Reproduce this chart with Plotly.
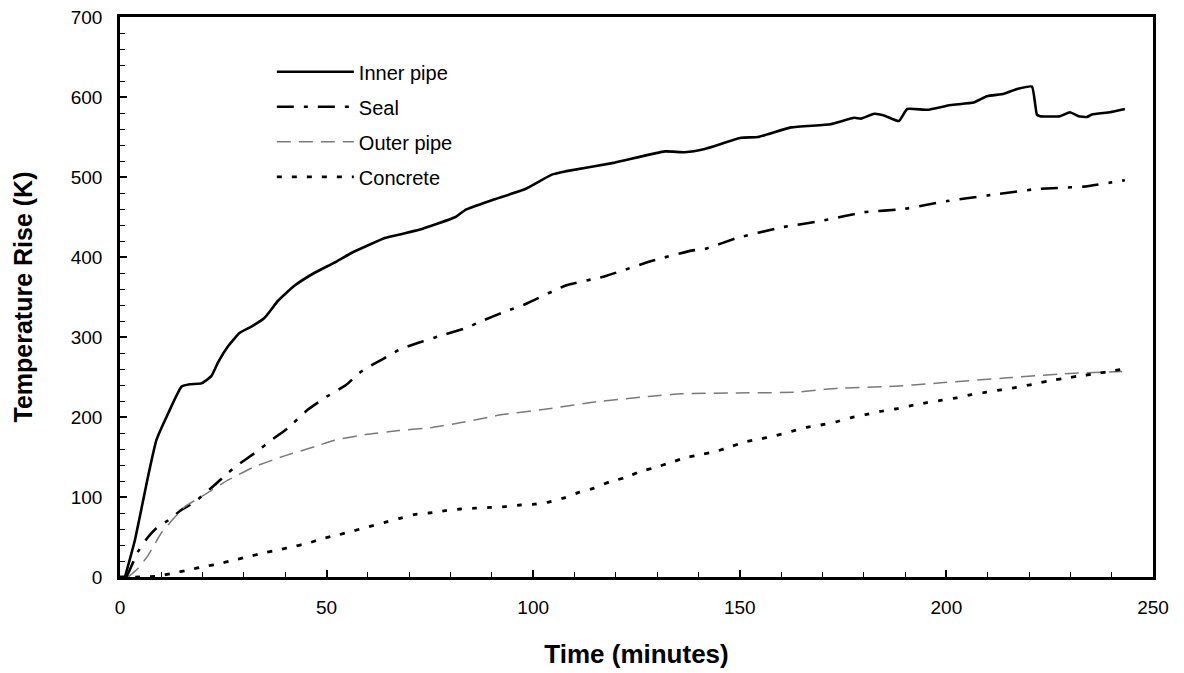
import plotly.graph_objects as go

# ---------------- data ----------------
inner_t = [1.2, 3.6, 6.8, 8.8, 11.7, 14.9, 16.9, 19.7, 22.1, 23.7, 26.1, 28.9, 31.8, 35.0, 38.2,
           42.2, 47.0, 51.9, 56.0, 64.3, 72.4, 81.2, 83.6, 90.0, 98.1, 104.5, 107.7, 119.8, 131.9,
           136.7, 141.5, 150.3, 154.4, 162.4, 172.0, 177.7, 179.3, 182.5, 184.9, 188.5, 190.5,
           195.4, 201.0, 206.6, 209.8, 213.9, 217.1, 220.7, 221.9, 222.7, 227.5, 229.9, 232.0,
           234.0, 235.2, 239.6, 243.2]
inner_v = [0, 46, 126, 171, 205, 238, 241, 242, 251, 268, 288, 305, 313, 324, 345,
           364, 380, 393, 405, 424, 434, 450, 459, 471, 485, 503, 507, 518, 532,
           531, 535, 549, 550, 562, 566, 574, 573, 579, 577, 570, 585,
           584, 590, 593, 601, 604, 610, 613, 578, 576, 576, 581, 576,
           575, 578, 581, 585]

seal_t = [1.6, 4.4, 6.8, 8.8, 11.7, 14.9, 18.1, 22.9, 26.1, 28.5, 32.6, 37.4, 40.6, 45.4, 50.2,
          54.7, 57.9, 60.3, 63.5, 67.5, 72.4, 77.2, 83.6, 87.6, 93.3, 98.1, 107.7, 117.4, 128.6,
          138.3, 141.5, 149.5, 160.0, 169.6, 180.1, 189.7, 200.2, 211.5, 221.9, 233.2, 243.2]
seal_v = [0, 32, 50, 61, 71, 84, 94, 115, 130, 140, 155, 174, 186, 209, 226,
          240, 255, 263, 272, 284, 293, 301, 311, 320, 332, 341, 364, 376, 395,
          408, 410, 424, 437, 445, 456, 460, 470, 478, 485, 488, 496]

outer_t = [2.0, 4.4, 6.8, 10.0, 13.3, 15.7, 20.5, 26.1, 32.6, 40.2, 47.2, 51.9, 59.5, 67.5, 75.6,
           83.6, 92.5, 101.9, 115.3, 128.6, 135.8, 149.1, 163.5, 173.8, 186.1, 199.4, 214.8,
           228.2, 242.5]
outer_v = [0, 11, 27, 55, 75, 88, 103, 121, 138, 152, 163, 171, 178, 183, 187,
           194, 203, 209, 219, 226, 229, 230, 231, 236, 238, 243, 249,
           254, 257]

conc_t = [0, 4.8, 9.2, 12.9, 16.9, 20.1, 23.7, 27.3, 30.9, 34.6, 38.6, 41.8, 45.4, 49.0, 53.1,
          56.7, 60.3, 63.9, 67.5, 71.2, 74.8, 78.8, 82.4, 86.0, 89.7, 93.3, 96.9, 100.5, 104.0,
          107.6, 111.2, 114.7, 118.5, 122.1, 126.0, 129.6, 133.2, 136.8, 140.4, 144.2, 147.8,
          151.4, 155.3, 158.9, 162.5, 166.1, 169.6, 173.3, 176.8, 180.4, 184.0, 187.6, 191.2,
          195.3, 198.9, 202.5, 206.1, 209.7, 213.3, 216.9, 221.0, 224.6, 228.2, 231.8, 235.9,
          239.5, 243.0]
conc_v = [0, 0, 1, 5, 9, 13, 16, 21, 25, 30, 34, 38, 42, 48, 53,
          58, 63, 68, 73, 78, 80, 83, 85, 86, 87, 88, 90, 91, 94,
          99, 106, 111, 119, 124, 132, 137, 143, 149, 153, 157, 163,
          169, 173, 177, 182, 187, 190, 194, 199, 203, 207, 210, 214,
          218, 221, 224, 228, 231, 234, 237, 241, 245, 248, 251, 254,
          257, 260]

series_names = ["Inner pipe", "Seal", "Outer pipe", "Concrete"]
x_ticks = [0, 50, 100, 150, 200, 250]
y_ticks = [0, 100, 200, 300, 400, 500, 600, 700]

FONT = "Liberation Sans, Arial, sans-serif"

fig = go.Figure()
fig.add_trace(go.Scatter(x=inner_t, y=inner_v, mode="lines", name=series_names[0],
                         legendgroup="a",
                         line=dict(color="black", width=2.6, shape="spline", smoothing=0.4)))
fig.add_trace(go.Scatter(x=seal_t, y=seal_v, mode="lines", name=series_names[1],
                         legendgroup="b",
                         line=dict(color="black", width=2.6, dash="17px,10px,4px,10px",
                                   shape="spline", smoothing=0.4)))
fig.add_trace(go.Scatter(x=outer_t, y=outer_v, mode="lines", name=series_names[2],
                         legendgroup="c",
                         line=dict(color="#7a7a7a", width=1.5, dash="14px,8px",
                                   shape="spline", smoothing=0.4)))
fig.add_trace(go.Scatter(x=conc_t, y=conc_v, mode="lines", name=series_names[3],
                         legendgroup="d",
                         line=dict(color="black", width=2.8, dash="5px,10px",
                                   shape="spline", smoothing=0.4)))

fig.update_layout(
    width=1184, height=673,
    margin=dict(l=120, r=31, t=17, b=96),
    paper_bgcolor="white", plot_bgcolor="white",
    font=dict(family=FONT, color="black", size=19),
    showlegend=True,
    legend=dict(x=0.147, y=0.937, xanchor="left", yanchor="top",
                bgcolor="rgba(0,0,0,0)", borderwidth=0,
                font=dict(family=FONT, size=20, color="black"),
                itemwidth=77,
                tracegroupgap=6, traceorder="grouped"),
)

fig.update_xaxes(
    range=[0, 250], tickvals=x_ticks, ticktext=[str(v) for v in x_ticks],
    showgrid=False, zeroline=False, automargin=False,
    showline=True, linecolor="black", linewidth=2.5, mirror=True,
    ticks="inside", ticklen=7, tickwidth=1.5, tickcolor="black",
    minor=dict(dtick=10, ticks="inside", ticklen=5, tickwidth=1.2, tickcolor="black"),
    tickfont=dict(family=FONT, size=19, color="black"),
    ticklabelstandoff=11,
    title=dict(text="<b>Time (minutes)</b>", font=dict(family=FONT, size=26, color="black"),
               standoff=29),
)
fig.update_yaxes(
    range=[0, 700], tickvals=y_ticks, ticktext=[str(v) for v in y_ticks],
    showgrid=False, zeroline=False, automargin=False,
    showline=True, linecolor="black", linewidth=2.5, mirror=True,
    ticks="inside", ticklen=7, tickwidth=1.5, tickcolor="black",
    minor=dict(dtick=20, ticks="inside", ticklen=5, tickwidth=1.2, tickcolor="black"),
    tickfont=dict(family=FONT, size=19, color="black"),
    ticklabelstandoff=11,
    title=dict(text="<b>Temperature Rise (K)</b>", font=dict(family=FONT, size=25, color="black"),
               standoff=31),
)

fig.write_html("out.html")
